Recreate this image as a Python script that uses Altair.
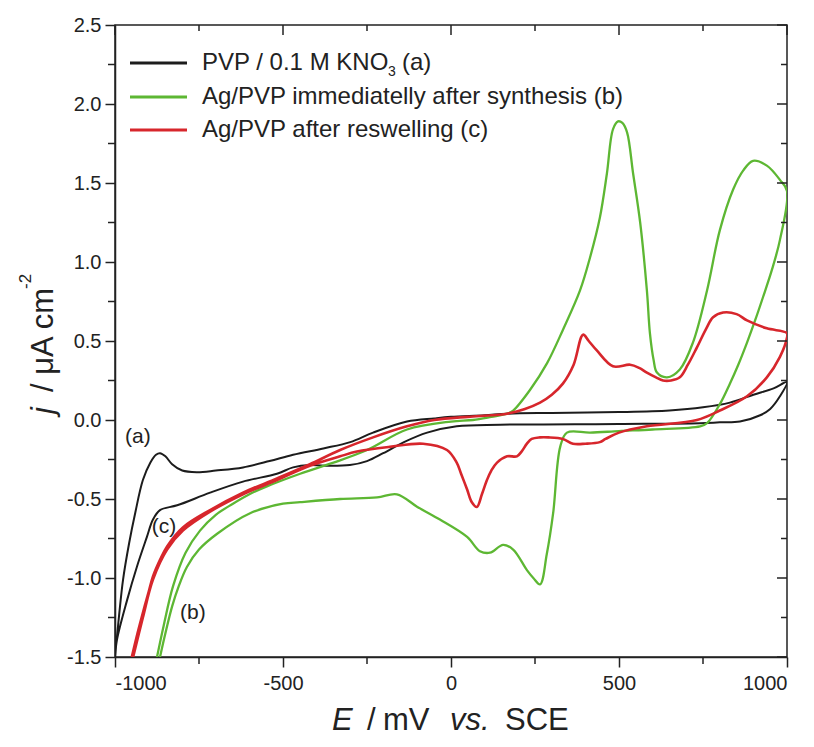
import altair as alt
import pandas as pd

# ---------------- data ----------------
series_names = ["a", "b", "c"]
series_colors = ["#1c1c1c", "#5db733", "#d7262c"]
series_widths = [2.0, 2.6, 2.2]

# (a) PVP / 0.1 M KNO3 : forward (anodic) and reverse sweeps
a_E_fwd = [-1000, -988, -976, -958, -940, -917, -895, -878, -866, -850, -830, -800, -756, -700, -619, -540, -470, -380, -300, -232, -131, -50, 0, 100, 167, 300, 500, 650, 750, 830, 900, 960, 1000]
a_j_fwd = [-1.5, -1.24, -1.01, -0.78, -0.59, -0.38, -0.27, -0.22, -0.21, -0.23, -0.28, -0.32, -0.33, -0.32, -0.30, -0.26, -0.22, -0.18, -0.14, -0.08, -0.01, 0.01, 0.02, 0.03, 0.04, 0.045, 0.05, 0.06, 0.08, 0.11, 0.16, 0.20, 0.24]
a_E_rev = [979, 950, 920, 860, 800, 741, 500, 146, 17, -71, -140, -202, -250, -301, -360, -420, -470, -518, -619, -717, -815, -866, -887, -905, -935, -964, -994, -1000]
a_j_rev = [0.15, 0.07, 0.03, -0.01, -0.015, -0.02, -0.025, -0.03, -0.04, -0.08, -0.14, -0.21, -0.26, -0.285, -0.29, -0.285, -0.30, -0.34, -0.39, -0.46, -0.54, -0.57, -0.63, -0.74, -0.93, -1.14, -1.39, -1.5]

# (b) Ag/PVP immediately after synthesis
b_E_fwd = [-875, -855, -827, -790, -747, -700, -649, -600, -548, -449, -350, -250, -131, 0, 65, 120, 167, 185, 235, 286, 333, 384, 414, 443, 464, 482, 497, 510, 524, 542, 563, 583, 592, 603, 613, 643, 681, 720, 762, 800, 840, 870, 899, 940, 979, 1000]
b_j_fwd = [-1.5, -1.3, -1.05, -0.84, -0.70, -0.60, -0.53, -0.47, -0.42, -0.34, -0.27, -0.19, -0.06, -0.01, 0.0, 0.02, 0.04, 0.06, 0.19, 0.36, 0.57, 0.82, 1.03, 1.28, 1.56, 1.84, 1.89, 1.88, 1.82, 1.56, 1.25, 0.82, 0.55, 0.38, 0.30, 0.27, 0.32, 0.49, 0.82, 1.20, 1.46, 1.58, 1.64, 1.61, 1.52, 1.45]
b_E_rev = [979, 955, 929, 905, 881, 855, 830, 800, 762, 741, 600, 500, 414, 345, 325, 304, 285, 265, 245, 226, 185, 155, 116, 86, 48, -33, -100, -161, -220, -330, -449, -500, -598, -696, -750, -786, -810, -830, -850, -866]
b_j_rev = [1.14, 0.95, 0.78, 0.63, 0.49, 0.35, 0.23, 0.10, -0.02, -0.04, -0.06, -0.07, -0.08, -0.08, -0.17, -0.59, -0.85, -1.04, -1.0, -0.95, -0.82, -0.79, -0.84, -0.83, -0.74, -0.63, -0.55, -0.47, -0.49, -0.50, -0.52, -0.53, -0.59, -0.72, -0.82, -0.93, -1.05, -1.18, -1.35, -1.5]

# (c) Ag/PVP after reswelling
c_E_fwd = [-950, -933, -917, -900, -887, -865, -845, -798, -717, -619, -518, -420, -330, -232, -131, -50, 50, 120, 167, 220, 265, 300, 333, 365, 393, 410, 434, 482, 533, 560, 583, 610, 631, 655, 681, 705, 732, 760, 780, 810, 850, 881, 940, 1000]
c_j_fwd = [-1.5, -1.35, -1.22, -1.09, -0.99, -0.88, -0.80, -0.68, -0.57, -0.46, -0.37, -0.28, -0.19, -0.11, -0.04, 0.0, 0.02, 0.03, 0.04, 0.07, 0.11, 0.16, 0.23, 0.35, 0.54, 0.50, 0.44, 0.34, 0.35, 0.33, 0.30, 0.27, 0.25, 0.25, 0.27, 0.35, 0.46, 0.58, 0.65, 0.68, 0.67, 0.63, 0.58, 0.55]
c_E_rev = [1000, 979, 940, 881, 800, 732, 583, 500, 460, 443, 400, 363, 333, 290, 265, 240, 226, 210, 196, 167, 137, 120, 107, 92, 77, 62, 48, 30, 17, -12, -83, -182, -280, -330, -420, -518, -619, -717, -798, -845, -887, -917, -946]
c_j_rev = [0.52, 0.40, 0.27, 0.15, 0.06, 0.0, -0.04, -0.08, -0.12, -0.14, -0.15, -0.15, -0.12, -0.11, -0.11, -0.12, -0.15, -0.20, -0.23, -0.23, -0.27, -0.32, -0.38, -0.47, -0.55, -0.52, -0.44, -0.34, -0.27, -0.19, -0.15, -0.17, -0.20, -0.23, -0.29, -0.38, -0.47, -0.58, -0.70, -0.82, -1.01, -1.25, -1.5]

legend_labels = ["PVP / 0.1 M KNO", "Ag/PVP immediatelly after synthesis (b)", "Ag/PVP after reswelling (c)"]

curve_labels = ["(a)", "(c)", "(b)"]
curve_label_E = [-932, -854, -768]
curve_label_j = [-0.11, -0.68, -1.22]

y_major = [-1.5, -1.0, -0.5, 0.0, 0.5, 1.0, 1.5, 2.0, 2.5]
y_minor = [-1.25, -0.75, -0.25, 0.25, 0.75, 1.25, 1.75, 2.25]
x_major = [-1000, -500, 0, 500, 1000]
x_minor = [-750, -250, 250, 750]

# ---------------- build table ----------------
rows = []
for name, Ef, jf, Er, jr in [
    ("a", a_E_fwd, a_j_fwd, a_E_rev, a_j_rev),
    ("b", b_E_fwd, b_j_fwd, b_E_rev, b_j_rev),
    ("c", c_E_fwd, c_j_fwd, c_E_rev, c_j_rev),
]:
    seq = list(zip(Ef, jf)) + list(zip(Er, jr))
    for i, (e, j) in enumerate(seq):
        rows.append({"series": name, "idx": i, "E": e, "j": j})
df = pd.DataFrame(rows)

W, H = 672, 632
FONT = "Liberation Sans"
INK = "#222222"
MINUS = "\u2212"

xscale = alt.Scale(domain=[-1000, 1000], nice=False, zero=False)
yscale = alt.Scale(domain=[-1.5, 2.5], nice=False, zero=False)

lines = alt.Chart(df).mark_line(interpolate="catmull-rom", clip=True).encode(
    x=alt.X("E:Q", scale=xscale,
            axis=alt.Axis(values=x_major, title=None, tickSize=10, labelPadding=6,
                          labelExpr=f"replace(format(datum.value, 'd'), '{MINUS}', '-')")),
    y=alt.Y("j:Q", scale=yscale,
            axis=alt.Axis(values=y_major, title=None, tickSize=10, labelPadding=4,
                          labelExpr=f"replace(format(datum.value, '.1f'), '{MINUS}', '-')")),
    color=alt.Color("series:N", scale=alt.Scale(domain=series_names, range=series_colors), legend=None),
    strokeWidth=alt.StrokeWidth("series:N", scale=alt.Scale(domain=series_names, range=series_widths), legend=None),
    detail="series:N",
    order="idx:Q",
)

# minor / mirrored ticks
ymin_df = pd.DataFrame({"j": y_minor})
ymaj_df = pd.DataFrame({"j": y_major})
xmin_df = pd.DataFrame({"E": x_minor})
xmaj_df = pd.DataFrame({"E": x_major})

tick_style = dict(color=INK, strokeWidth=1.5)
left_minor = alt.Chart(ymin_df).mark_rule(**tick_style).encode(
    y=alt.Y("j:Q", scale=yscale), x=alt.value(-7), x2=alt.value(0))
right_minor = alt.Chart(ymin_df).mark_rule(**tick_style).encode(
    y=alt.Y("j:Q", scale=yscale), x=alt.value(W - 6), x2=alt.value(W))
right_major = alt.Chart(ymaj_df).mark_rule(**tick_style).encode(
    y=alt.Y("j:Q", scale=yscale), x=alt.value(W - 10), x2=alt.value(W))
bottom_minor = alt.Chart(xmin_df).mark_rule(**tick_style).encode(
    x=alt.X("E:Q", scale=xscale), y=alt.value(H), y2=alt.value(H + 7))
top_minor = alt.Chart(xmin_df).mark_rule(**tick_style).encode(
    x=alt.X("E:Q", scale=xscale), y=alt.value(0), y2=alt.value(6))
top_major = alt.Chart(xmaj_df).mark_rule(**tick_style).encode(
    x=alt.X("E:Q", scale=xscale), y=alt.value(0), y2=alt.value(10))

# curve labels
lab_df = pd.DataFrame({"t": curve_labels, "E": curve_label_E, "j": curve_label_j})
curve_text = alt.Chart(lab_df).mark_text(font=FONT, fontSize=21, color=INK, align="center", baseline="middle").encode(
    x=alt.X("E:Q", scale=xscale), y=alt.Y("j:Q", scale=yscale), text="t:N")

# legend
leg_y = [38, 72, 105]
leg_layers = []
for lbl, col, yy in zip(legend_labels, series_colors, leg_y):
    leg_layers.append(alt.Chart(pd.DataFrame({"t": [lbl]})).mark_rule(color=col, strokeWidth=3).encode(
        x=alt.value(15), x2=alt.value(72), y=alt.value(yy)))
    leg_layers.append(alt.Chart(pd.DataFrame({"t": [lbl]})).mark_text(
        font=FONT, fontSize=24, color=INK, align="left", baseline="middle").encode(
        x=alt.value(87), y=alt.value(yy), text="t:N"))
sub3 = alt.Chart(pd.DataFrame({"t": ["3"]})).mark_text(
    font=FONT, fontSize=14, color=INK, align="left", baseline="middle").encode(
    x=alt.value(273), y=alt.value(47), text="t:N")
sub_a = alt.Chart(pd.DataFrame({"t": ["(a)"]})).mark_text(
    font=FONT, fontSize=24, color=INK, align="left", baseline="middle").encode(
    x=alt.value(287), y=alt.value(38), text="t:N")

# axis titles with mixed italics
def txt(t, x, y, size, italic=False, angle=0, align="left", baseline="alphabetic"):
    kw = dict(font=FONT, fontSize=size, color=INK, align=align, baseline=baseline, angle=angle)
    if italic:
        kw["fontStyle"] = "italic"
    return alt.Chart(pd.DataFrame({"t": [t]})).mark_text(**kw).encode(
        x=alt.value(x), y=alt.value(y), text="t:N")

XT_Y = 705
xt = [
    txt("E", 217, XT_Y, 31, italic=True),
    txt("/", 252, XT_Y, 31),
    txt("mV", 268, XT_Y, 31),
    txt("vs.", 335, XT_Y, 31, italic=True),
    txt("SCE", 390, XT_Y, 31),
]
yt = [
    txt("j", -62, 389, 31, italic=True, angle=270),
    txt("/ μA cm", -62, 367, 31, angle=270),
    txt("-2", -84, 264, 17, angle=270),
]

chart = alt.layer(
    lines, left_minor, right_minor, right_major, bottom_minor, top_minor, top_major,
    curve_text, *leg_layers, sub3, sub_a, *xt, *yt,
).properties(
    width=W, height=H,
    autosize=alt.AutoSizeParams(type="none"),
    padding={"left": 107, "top": 17, "right": 15, "bottom": 82},
).configure_view(
    stroke=INK, strokeWidth=1.5
).configure_axis(
    grid=False, domainColor=INK, domainWidth=1.5, tickColor=INK, tickWidth=1.5,
    labelFont=FONT, labelFontSize=20, labelColor=INK,
)

chart.save("out.html", embed_options={"renderer": "svg", "actions": False})
